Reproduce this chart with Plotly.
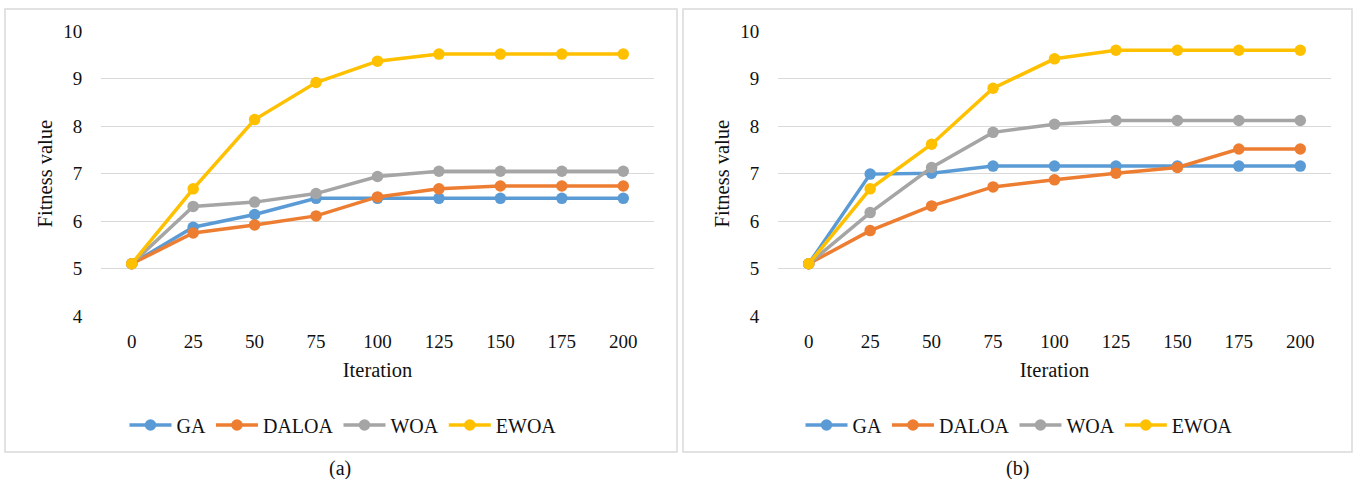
import plotly.graph_objects as go

iterations = ["0", "25", "50", "75", "100", "125", "150", "175", "200"]
series_names = ["GA", "DALOA", "WOA", "EWOA"]
colors = ["#5B9BD5", "#ED7D31", "#A5A5A5", "#FFC000"]

# Panel (a)
ga_a = [5.10, 5.87, 6.14, 6.48, 6.48, 6.48, 6.48, 6.48, 6.48]
daloa_a = [5.10, 5.75, 5.92, 6.11, 6.51, 6.68, 6.74, 6.74, 6.74]
woa_a = [5.10, 6.31, 6.40, 6.58, 6.94, 7.05, 7.05, 7.05, 7.05]
ewoa_a = [5.10, 6.68, 8.14, 8.92, 9.37, 9.52, 9.52, 9.52, 9.52]

# Panel (b)
ga_b = [5.10, 6.99, 7.01, 7.16, 7.16, 7.16, 7.16, 7.16, 7.16]
daloa_b = [5.10, 5.80, 6.32, 6.72, 6.87, 7.01, 7.13, 7.52, 7.52]
woa_b = [5.10, 6.18, 7.13, 7.87, 8.04, 8.12, 8.12, 8.12, 8.12]
ewoa_b = [5.10, 6.68, 7.62, 8.80, 9.42, 9.60, 9.60, 9.60, 9.60]

W, H = 1354, 479
FONT = "Liberation Serif"
TXT = "#111111"
GRID = "#D9D9D9"


def px_x(p):
    return p / W


def px_y(p):
    return 1 - p / H


fig = go.Figure()

panels = [
    ([ga_a, daloa_a, woa_a, ewoa_a], "x", "y", "legend"),
    ([ga_b, daloa_b, woa_b, ewoa_b], "x2", "y2", "legend2"),
]
for data, xa, ya, lg in panels:
    for name, vals, col in zip(series_names, data, colors):
        fig.add_trace(go.Scatter(
            x=iterations, y=vals, name=name, mode="lines+markers",
            line=dict(color=col, width=3.5),
            marker=dict(color=col, size=11.5),
            xaxis=xa, yaxis=ya, legend=lg,
        ))

xcommon = dict(
    type="category", range=[-0.5, 8.5], showgrid=False, zeroline=False,
    showline=False, ticks="outside", ticklen=8, tickcolor="rgba(0,0,0,0)",
    automargin=False,
    tickfont=dict(family=FONT, size=19, color=TXT),
    title=dict(text="Iteration", font=dict(family=FONT, size=20.5, color=TXT), standoff=11),
)
ycommon = dict(
    range=[4, 10], dtick=1, showgrid=True, gridcolor=GRID, gridwidth=1.3,
    zeroline=False, showline=False, ticks="outside", ticklen=14,
    tickcolor="rgba(0,0,0,0)", automargin=False,
    tickfont=dict(family=FONT, size=19, color=TXT),
    title=dict(text="Fitness value", font=dict(family=FONT, size=20.5, color=TXT), standoff=5),
)

legend_common = dict(
    orientation="h", xanchor="center", yanchor="middle",
    font=dict(family=FONT, size=20, color=TXT), bgcolor="rgba(0,0,0,0)",
    itemwidth=42,
)

fig.update_layout(
    width=W, height=H, autosize=False,
    margin=dict(l=0, r=0, t=0, b=0, pad=0, autoexpand=False),
    paper_bgcolor="white", plot_bgcolor="white",
    font=dict(family=FONT, color=TXT),
    xaxis=dict(domain=[px_x(101), px_x(654)], anchor="y", **xcommon),
    yaxis=dict(domain=[px_y(316), px_y(31.3)], anchor="x", **ycommon),
    xaxis2=dict(domain=[px_x(778), px_x(1331)], anchor="y2", **xcommon),
    yaxis2=dict(domain=[px_y(316), px_y(31.3)], anchor="x2", **ycommon),
    legend=dict(x=px_x(343), y=px_y(425), **legend_common),
    legend2=dict(x=px_x(1019), y=px_y(425), **legend_common),
    showlegend=True,
    shapes=[
        dict(type="rect", xref="paper", yref="paper",
             x0=px_x(5), x1=px_x(677), y0=px_y(452), y1=px_y(9),
             line=dict(color=GRID, width=1.5), fillcolor="rgba(0,0,0,0)", layer="below"),
        dict(type="rect", xref="paper", yref="paper",
             x0=px_x(683), x1=px_x(1352), y0=px_y(452), y1=px_y(9),
             line=dict(color=GRID, width=1.5), fillcolor="rgba(0,0,0,0)", layer="below"),
    ],
    annotations=[
        dict(text="(a)", x=px_x(340), y=px_y(468), xref="paper", yref="paper",
             showarrow=False, xanchor="center", yanchor="middle",
             font=dict(family=FONT, size=20, color=TXT)),
        dict(text="(b)", x=px_x(1017), y=px_y(468), xref="paper", yref="paper",
             showarrow=False, xanchor="center", yanchor="middle",
             font=dict(family=FONT, size=20, color=TXT)),
    ],
)

fig.write_html(
    "out.html",
    config={"displayModeBar": False},
    post_script="document.body.style.margin='0';document.body.style.padding='0';document.documentElement.style.overflow='hidden';",
)
